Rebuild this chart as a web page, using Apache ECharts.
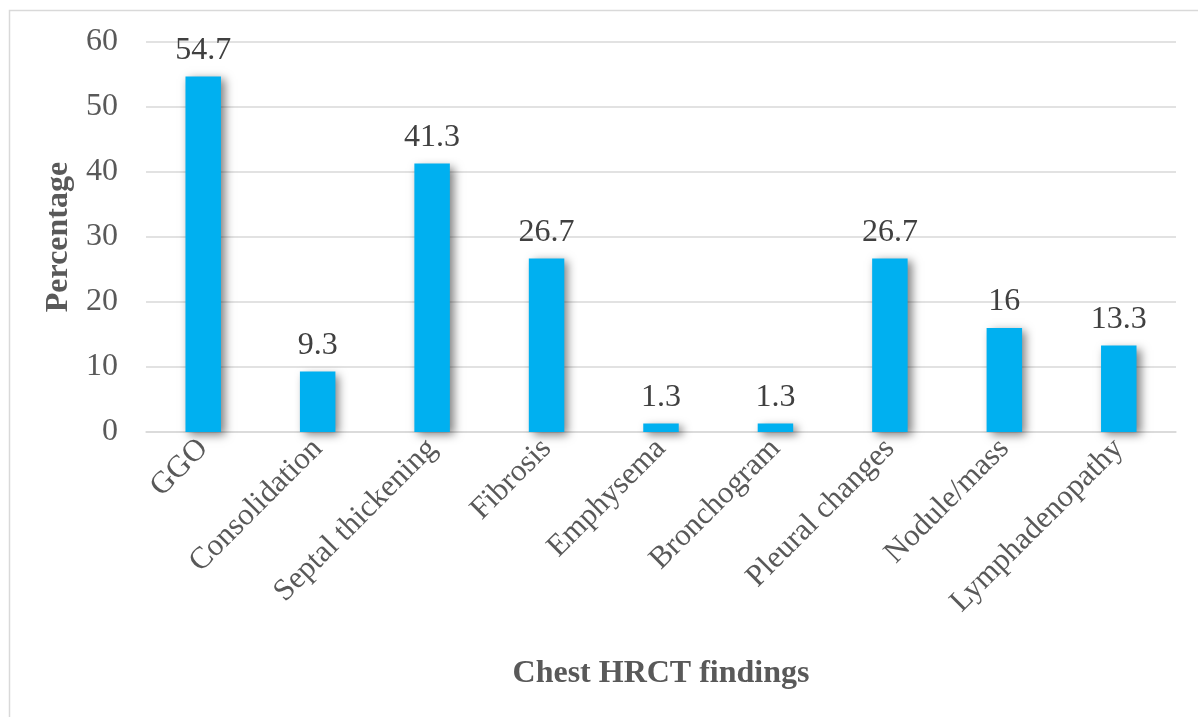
<!DOCTYPE html>
<html>
<head>
<meta charset="utf-8">
<script src="https://cdn.jsdelivr.net/npm/echarts@6/dist/echarts.min.js"></script>
<style>
  html, body { margin: 0; padding: 0; background: #fff; }
  #main { width: 1198px; height: 717px; }
</style>
</head>
<body>
<div id="main"></div>
<script>
  var categories = ['GGO', 'Consolidation', 'Septal thickening', 'Fibrosis', 'Emphysema',
    'Bronchogram', 'Pleural changes', 'Nodule/mass', 'Lymphadenopathy'];
  var percentages = [54.7, 9.3, 41.3, 26.7, 1.3, 1.3, 26.7, 16, 13.3];

  var serif = '"Liberation Serif", "Times New Roman", serif';
  var grey = '#595959';

  var chart = echarts.init(document.getElementById('main'));

  var option = {
    backgroundColor: '#fff',
    animation: false,
    graphic: [{
      type: 'rect',
      shape: { x: 9.5, y: 10.5, width: 1200, height: 720 },
      style: { fill: 'none', stroke: '#d9d9d9', lineWidth: 1.5 },
      silent: true
    }],
    grid: { left: 146, right: 22, top: 42, bottom: 285 },
    xAxis: {
      type: 'category',
      data: categories,
      name: 'Chest HRCT findings',
      nameLocation: 'middle',
      nameGap: 226,
      nameTextStyle: { fontFamily: serif, fontSize: 32, fontWeight: 'bold', color: grey },
      axisLine: { lineStyle: { color: '#d9d9d9', width: 1.5 } },
      axisTick: { show: false },
      axisLabel: {
        rotate: 45, interval: 0, margin: 12,
        fontFamily: serif, fontSize: 31, color: grey
      }
    },
    yAxis: {
      type: 'value',
      min: 0, max: 60, interval: 10,
      name: 'Percentage',
      nameLocation: 'middle',
      nameGap: 68,
      nameTextStyle: { fontFamily: serif, fontSize: 32, fontWeight: 'bold', color: grey },
      axisLine: { show: false },
      axisTick: { show: false },
      splitLine: { lineStyle: { color: '#d9d9d9', width: 1.5 } },
      axisLabel: { margin: 28, fontFamily: serif, fontSize: 32, color: grey }
    },
    series: [{
      type: 'bar',
      data: percentages,
      barWidth: '31%',
      itemStyle: {
        color: '#00b0f0',
        shadowColor: 'rgba(0,0,0,0.5)',
        shadowBlur: 9,
        shadowOffsetX: 4,
        shadowOffsetY: 3
      },
      label: {
        show: true, position: 'top', distance: 10,
        fontFamily: serif, fontSize: 32, color: '#404040'
      }
    }]
  };

  chart.setOption(option);
</script>
</body>
</html>
